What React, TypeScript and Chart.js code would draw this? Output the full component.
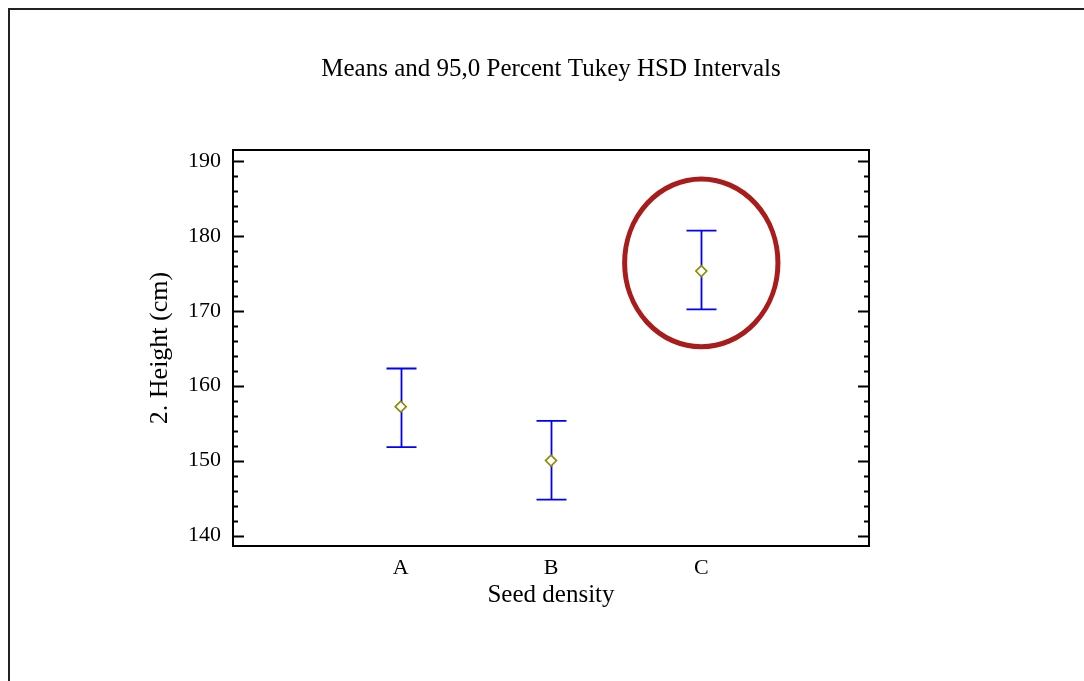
import React, { useEffect, useRef } from "react";
import { Chart, registerables } from "chart.js";

Chart.register(...registerables);

const categories = ["A", "B", "C"];
const means = [157.2, 150.0, 175.3];
const lowerLimits = [151.8, 144.8, 170.2];
const upperLimits = [162.3, 155.3, 180.7];
const yTickValues = [140, 150, 160, 170, 180, 190];
const yMinorStep = 2;
const highlight = { category: 3, centerY: 176.4, radiusX: 0.51, radiusY: 11.2 };

const FONT = "'Liberation Serif', 'Times New Roman', serif";

const decorPlugin = {
  id: "decor",
  beforeDraw(chart: any) {
    const ctx = chart.ctx;
    ctx.save();
    ctx.fillStyle = "#ffffff";
    ctx.fillRect(0, 0, chart.width, chart.height);
    ctx.strokeStyle = "#222222";
    ctx.lineWidth = 2;
    ctx.strokeRect(9, 9, chart.width + 50, chart.height + 50);
    ctx.restore();
  },
  beforeDatasetsDraw(chart: any) {
    const ctx = chart.ctx;
    const xs = chart.scales.x;
    const ys = chart.scales.y;
    ctx.save();
    ctx.strokeStyle = "#0000ff";
    ctx.lineWidth = 1.8;
    for (let i = 0; i < categories.length; i++) {
      const px = Math.round(xs.getPixelForValue(i + 1)) + 0.5;
      const lo = ys.getPixelForValue(lowerLimits[i]);
      const hi = ys.getPixelForValue(upperLimits[i]);
      ctx.beginPath();
      ctx.moveTo(px, lo);
      ctx.lineTo(px, hi);
      ctx.moveTo(px - 15, hi);
      ctx.lineTo(px + 15, hi);
      ctx.moveTo(px - 15, lo);
      ctx.lineTo(px + 15, lo);
      ctx.stroke();
    }
    ctx.restore();
  },
  afterDatasetsDraw(chart: any) {
    const ctx = chart.ctx;
    const xs = chart.scales.x;
    const ys = chart.scales.y;
    const { left, right, top, bottom } = chart.chartArea;
    ctx.save();
    ctx.strokeStyle = "#000000";
    ctx.lineWidth = 2;
    ctx.strokeRect(left, top, right - left, bottom - top);
    ctx.lineWidth = 1.8;
    ctx.beginPath();
    const start = yTickValues[0];
    const end = yTickValues[yTickValues.length - 1];
    for (let v = start; v <= end + 1e-6; v += yMinorStep) {
      const major = yTickValues.some((t) => Math.abs(t - v) < 1e-6);
      const len = major ? 11 : 5;
      const py = Math.round(ys.getPixelForValue(v)) + 0.5;
      ctx.moveTo(left, py);
      ctx.lineTo(left + len, py);
      ctx.moveTo(right, py);
      ctx.lineTo(right - len, py);
    }
    ctx.stroke();
    const cx = xs.getPixelForValue(highlight.category);
    const cy = ys.getPixelForValue(highlight.centerY);
    const rx = Math.abs(xs.getPixelForValue(highlight.category + highlight.radiusX) - cx);
    const ry = Math.abs(ys.getPixelForValue(highlight.centerY + highlight.radiusY) - cy);
    ctx.strokeStyle = "#a81c1c";
    ctx.lineWidth = 5;
    ctx.beginPath();
    ctx.ellipse(cx, cy, rx, ry, 0, 0, Math.PI * 2);
    ctx.stroke();
    ctx.restore();
  },
};

export default function App() {
  const ref = useRef<HTMLCanvasElement | null>(null);
  useEffect(() => {
    if (!ref.current) return;
    const chart = new Chart(ref.current, {
      type: "scatter",
      data: {
        datasets: [
          {
            label: "Means",
            data: means.map((m, i) => ({ x: i + 1, y: m })),
            pointStyle: "rectRot",
            pointRadius: 5.5,
            pointHoverRadius: 5.5,
            borderColor: "#8c8c00",
            backgroundColor: "#ffffff",
            pointBorderWidth: 1.6,
          },
        ],
      },
      options: {
        responsive: false,
        animation: false,
        layout: { padding: { left: 145, right: 215, top: 0, bottom: 71 } },
        plugins: {
          legend: { display: false },
          tooltip: { enabled: false },
          title: {
            display: true,
            fullSize: false,
            text: "Means and 95,0 Percent Tukey HSD Intervals",
            color: "#000000",
            font: { family: FONT, size: 25, weight: "normal" },
            padding: { top: 54, bottom: 66 },
          },
        },
        scales: {
          x: {
            type: "linear",
            min: -0.116,
            max: 4.116,
            grid: { display: false, drawTicks: false },
            border: { display: false },
            afterBuildTicks: (scale: any) => {
              scale.ticks = categories.map((_, i) => ({ value: i + 1 }));
            },
            afterFit: (scale: any) => {
              scale.height = 64;
            },
            ticks: {
              autoSkip: false,
              maxRotation: 0,
              padding: 9,
              color: "#000000",
              font: { family: FONT, size: 22 },
              callback: (v: any) => categories[Math.round(Number(v)) - 1] ?? "",
            },
            title: {
              display: true,
              text: "Seed density",
              color: "#000000",
              font: { family: FONT, size: 25 },
              padding: { top: 0, bottom: 0 },
            },
          },
          y: {
            type: "linear",
            min: 138.6,
            max: 191.47,
            grid: { display: false, drawTicks: false },
            border: { display: false },
            afterBuildTicks: (scale: any) => {
              scale.ticks = yTickValues.map((v) => ({ value: v }));
            },
            afterFit: (scale: any) => {
              scale.width = 233 - 145;
            },
            ticks: {
              padding: 12,
              color: "#000000",
              font: { family: FONT, size: 22 },
            },
            title: {
              display: true,
              text: "2. Height (cm)",
              color: "#000000",
              font: { family: FONT, size: 26 },
              padding: { top: 0, bottom: 0 },
            },
          },
        },
      },
      plugins: [decorPlugin],
    } as any);
    return () => chart.destroy();
  }, []);
  return (
    <div style={{ position: "absolute", left: 0, top: 0, width: 1084, height: 681 }}>
      <canvas ref={ref} width={1084} height={681} />
    </div>
  );
}
